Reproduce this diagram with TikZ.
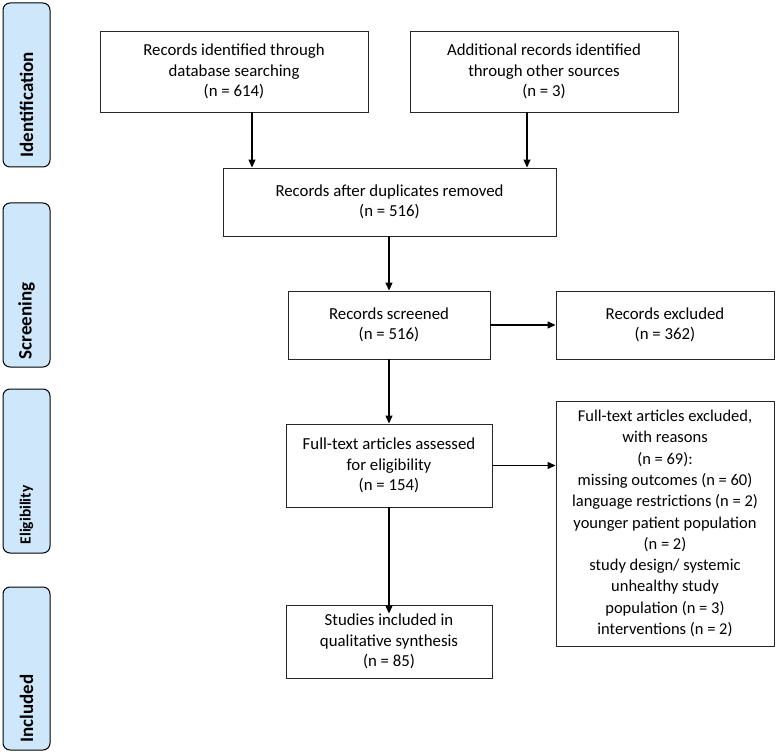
\documentclass[tikz,border=0pt]{standalone}
\usepackage{fontspec}
\setmainfont{Carlito}
\usetikzlibrary{arrows.meta,calc}
\definecolor{sidefill}{HTML}{CFE7FA}
\tikzset{
  box/.style={draw=black!85, line width=0.9pt, align=center, font=\fontsize{16.8}{20.5}\selectfont, inner sep=2pt},
  side/.style={draw=black, line width=1pt, fill=sidefill, rounded corners=7pt, minimum width=47pt},
  sidelabel/.style={rotate=90, anchor=west, font=\bfseries\fontsize{19}{21}\selectfont, inner sep=0pt},
  arr/.style={line width=1.2pt, -{Triangle[length=8pt,width=7pt]}}
}
\begin{document}
\begin{tikzpicture}[x=1pt,y=-1pt]
\useasboundingbox (0,0) rectangle (779,754);
% side boxes
\node[side, minimum height=164pt] (s1) at (26.5,85) {};
\node[side, minimum height=164pt] (s2) at (26.5,285) {};
\node[side, minimum height=164pt] (s3) at (26.5,471) {};
\node[side, minimum height=163pt] (s4) at (26.5,668.5) {};
\node[sidelabel] (l1) at ([yshift=10pt]s1.south) {Identification};
\node[sidelabel] (l2) at ([yshift=8pt]s2.south) {Screening};
\node[sidelabel, font=\bfseries\fontsize{15.5}{17}\selectfont] (l3) at ([yshift=9pt]s3.south) {Eligibility};
\node[sidelabel] (l4) at ([yshift=8pt]s4.south) {Included};
% main boxes
\node[box, minimum width=268pt, minimum height=81pt] (id1) at (234,71.5) {Records identified through\\database searching\\(n = 614)};
\node[box, minimum width=268pt, minimum height=81pt] (id2) at (544,71.5) {Additional records identified\\through other sources\\(n = 3)};
\node[box, minimum width=333pt, minimum height=68pt] (dup) at (389.5,202) {Records after duplicates removed\\(n = 516)};
\node[box, minimum width=202pt, minimum height=68pt] (scr) at (389,325) {Records screened\\(n = 516)};
\node[box, minimum width=218pt, minimum height=68pt] (exc) at (665,325) {Records excluded\\(n = 362)};
\node[box, minimum width=206pt, minimum height=83pt] (ft) at (389,465.5) {Full-text articles assessed\\for eligibility\\(n = 154)};
\node[box, minimum width=218pt, minimum height=245pt, font=\fontsize{16.5}{21.3}\selectfont] (ftx) at (665,523.5) {Full-text articles excluded,\\with reasons\\(n = 69):\\missing outcomes (n = 60)\\language restrictions (n = 2)\\younger patient population\\(n = 2)\\study design/ systemic\\unhealthy study\\population (n = 3)\\interventions (n = 2)};
\node[box, minimum width=206pt, minimum height=73pt] (inc) at (389,641.5) {Studies included in\\qualitative synthesis\\(n = 85)};
% arrows
\draw[arr] ([xshift=18pt]id1.south) -- ([xshift=18pt]id1.south |- dup.north);
\draw[arr] ([xshift=-17pt]id2.south) -- ([xshift=-17pt]id2.south |- dup.north);
\draw[arr] (dup.south -| scr.north) -- (scr.north);
\draw[arr] (scr.east) -- (exc.west);
\draw[arr] (scr.south) -- (ft.north);
\draw[arr] (ft.east) -- (ft.east -| ftx.west);
\draw[arr] (ft.south) -- ([yshift=-9pt]inc.north);
\end{tikzpicture}
\end{document}
